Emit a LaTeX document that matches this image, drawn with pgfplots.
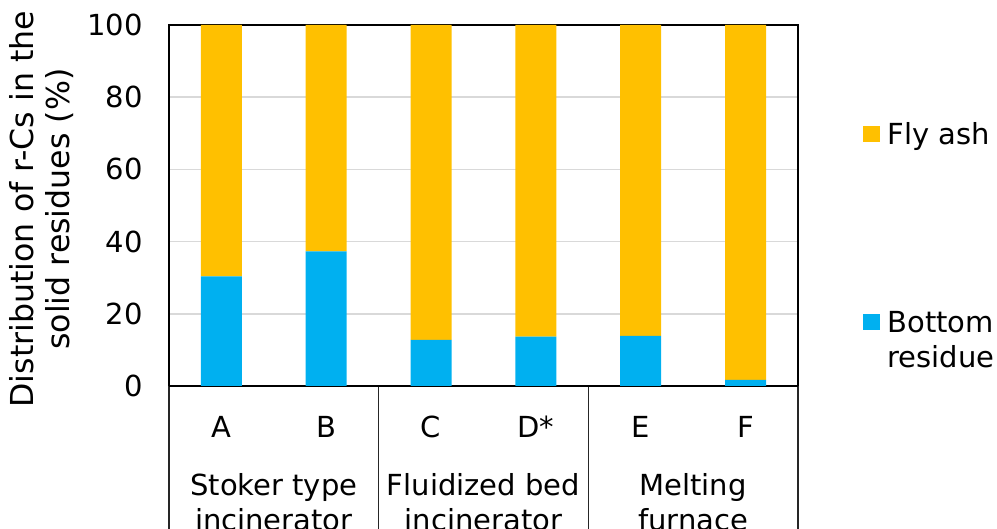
\documentclass[border=0pt]{standalone}
\usepackage{fontspec}
\setmainfont{DejaVu Sans}
\usepackage{pgfplots}
\pgfplotsset{compat=1.18}
\definecolor{fly}{HTML}{FFC000}
\definecolor{bot}{HTML}{00B0F0}
\definecolor{gridc}{HTML}{D9D9D9}
\begin{document}
\begin{tikzpicture}[font=\fontsize{14.5}{17.4}\selectfont]
\begin{axis}[name=ax, at={(0,0)}, anchor=south west,
 width=314.5pt, height=180.5pt, scale only axis,
 ybar stacked, bar width=20.5pt,
 xmin=-0.5, xmax=5.5, ymin=0, ymax=100,
 xtick={0,...,5}, xticklabels={A,B,C,D*,E,F},
 ytick={0,20,...,100},
 major tick length=0pt,
 ymajorgrids, grid style={gridc, line width=0.75pt},
 axis line style={black, line width=1pt},
 /pgf/number format/assume math mode=true,
 xticklabel style={anchor=base, yshift=-25.75pt},
 yticklabel style={xshift=-9.7pt},
 ylabel={Distribution of r-Cs in the\\solid residues (\%)},
 ylabel style={font=\fontsize{15.8}{18}\selectfont, align=center, at={(axis description cs:-0.1399,0.49)}, anchor=south},
 clip=false,
]
\addplot[fill=bot, draw=none] coordinates {(0,30.4) (1,37.3) (2,12.8) (3,13.7) (4,13.9) (5,1.7)};
\addplot[fill=fly, draw=none] coordinates {(0,69.6) (1,62.7) (2,87.2) (3,86.3) (4,86.1) (5,98.3)};
\draw[line width=1pt, black] (axis cs:-0.5,0) -- (axis cs:5.5,0);
\pgfplotsinvokeforeach{-0.5,1.5,3.5,5.5}{\draw[line width=0.6pt, black!85] (axis cs:#1,0) -- ++(0pt,-80pt);}
\node[anchor=base] at (axis cs:0.5,0) [yshift=-54.75pt] {Stoker type};
\node[anchor=base] at (axis cs:0.5,0) [yshift=-72.25pt] {incinerator};
\node[anchor=base] at (axis cs:2.5,0) [yshift=-54.75pt] {Fluidized bed};
\node[anchor=base] at (axis cs:2.5,0) [yshift=-72.25pt] {incinerator};
\node[anchor=base] at (axis cs:4.5,0) [yshift=-54.75pt] {Melting};
\node[anchor=base] at (axis cs:4.5,0) [yshift=-72.25pt] {furnace};
\end{axis}
\fill[fly] (347pt,122pt) rectangle (355.5pt,130pt);
\fill[bot] (347pt,28pt) rectangle (355.5pt,36pt);
\node[anchor=base west, inner sep=0pt] at (359pt,120.75pt) {Fly ash};
\node[anchor=base west, inner sep=0pt] at (359pt,26.75pt) {Bottom};
\node[anchor=base west, inner sep=0pt] at (359pt,9.25pt) {residue};
\pgfresetboundingbox
\useasboundingbox (-84.5pt,-71.5pt) rectangle (414pt,193pt);
\end{tikzpicture}
\end{document}
